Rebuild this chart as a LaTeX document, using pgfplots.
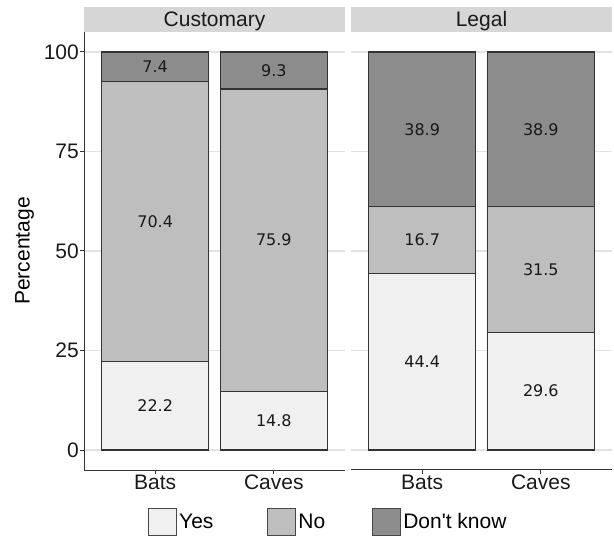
\documentclass[border=0pt]{standalone}
\usepackage{fontspec}
\setmainfont{Liberation Sans}
\newfontfamily\labfont{DejaVu Sans}
\usepackage{pgfplots}
\pgfplotsset{compat=1.18}

\definecolor{yescol}{HTML}{F0F0F0}
\definecolor{nocol}{HTML}{BEBEBE}
\definecolor{dkcol}{HTML}{8C8C8C}
\definecolor{stripcol}{HTML}{D6D6D6}
\definecolor{gridcol}{HTML}{E3E3E3}
\definecolor{edgecol}{HTML}{333333}
\definecolor{txtcol}{HTML}{1A1A1A}

\newcommand{\bigfont}{\fontsize{21bp}{25bp}\selectfont}

\pgfplotsset{
  panel/.style={
    scale only axis, width=261bp, height=438bp,
    xmin=0.4, xmax=2.6, ymin=-5, ymax=105,
    clip=false,
    ybar stacked, bar width=0.9,
    xtick={1,2}, xticklabels={Bats,Caves},
    ytick={0,25,50,75,100},
    ymajorgrids, grid style={gridcol, line width=1.2bp},
    axis lines*=left,
    axis line style={edgecol, line width=1bp},
    tick align=outside, major tick length=4bp,
    tick style={edgecol, line width=1bp},
    /pgf/number format/assume math mode=true,
    tick label style={font=\bigfont, text=txtcol},
    xticklabel style={inner sep=1bp},
    yticklabel style={inner sep=1bp},
    every axis plot/.append style={draw=edgecol, line width=1.2bp},
  },
  labels/.style={
    scale only axis, width=261bp, height=438bp,
    xmin=0.4, xmax=2.6, ymin=-5, ymax=105,
    hide axis, clip=false,
    nodes near coords, point meta=explicit symbolic,
    nodes near coords align=center,
    every node near coord/.append style={font=\labfont\fontsize{16bp}{19bp}\selectfont, text=black!90, inner sep=0pt},
  },
}

\pgfplotstableread{
x yes no dk
1 22.2 70.4 7.4
2 14.8 75.9 9.3
}\customary
\pgfplotstableread{
x yes no dk
1 44.4 16.7 38.9
2 29.6 31.5 38.9
}\legal

\begin{document}
\begin{tikzpicture}
\useasboundingbox (0,0) rectangle (614bp,540bp);

% Customary panel
\begin{axis}[panel, name=cust, at={(84bp,70bp)}, anchor=south west,
  ylabel={Percentage},
  every axis y label/.style={at={(axis description cs:-0.228,0.5)}, rotate=90, anchor=center, font=\bigfont, text=black},
  legend columns=3,
  legend style={at={(axis description cs:0.2452,-0.1187)}, anchor=west, draw=none, fill=none,
    inner sep=0pt, font=\bigfont, text=black, nodes={inner sep=0pt},
    /tikz/every odd column/.append style={column sep=2bp},
    /tikz/every even column/.append style={column sep=47bp}},
  legend image code/.code={\draw[#1, draw=edgecol!90, line width=1bp] (0bp,-13.5bp) rectangle (28bp,13.5bp);},
]
\addplot[fill=yescol] table[x=x, y=yes] {\customary};
\addplot[fill=nocol] table[x=x, y=no] {\customary};
\addplot[fill=dkcol] table[x=x, y=dk] {\customary};
\legend{Yes\hspace*{7bp}, No, Don\textquotesingle t know}
\end{axis}
\begin{axis}[labels, at={(84bp,70bp)}, anchor=south west]
\addplot[only marks, mark=*, mark size=0pt, mark options={draw=none, fill=none}] table[meta=lab] {
x y lab
1 11.1 22.2
1 57.4 70.4
1 96.3 7.4
2 7.4 14.8
2 52.75 75.9
2 95.35 9.3
};
\end{axis}

% Legal panel
\begin{axis}[panel, name=legal, at={(351bp,70bp)}, anchor=south west,
  y axis line style={draw=none}, yticklabels={}, ytick style={draw=none}]
\addplot[fill=yescol] table[x=x, y=yes] {\legal};
\addplot[fill=nocol] table[x=x, y=no] {\legal};
\addplot[fill=dkcol] table[x=x, y=dk] {\legal};
\end{axis}
\begin{axis}[labels, at={(351bp,70bp)}, anchor=south west]
\addplot[only marks, mark=*, mark size=0pt, mark options={draw=none, fill=none}] table[meta=lab] {
x y lab
1 22.2 44.4
1 52.75 16.7
1 80.55 38.9
2 14.8 29.6
2 45.35 31.5
2 80.55 38.9
};
\end{axis}

% facet strips
\foreach \ax/\name in {cust/Customary, legal/Legal} {
  \fill[stripcol] (\ax.north west) rectangle ([yshift=25bp]\ax.north east);
  \path ([yshift=5.5bp]\ax.north) node[anchor=base, font=\bigfont, text=txtcol] {\name};
}
\end{tikzpicture}
\end{document}
